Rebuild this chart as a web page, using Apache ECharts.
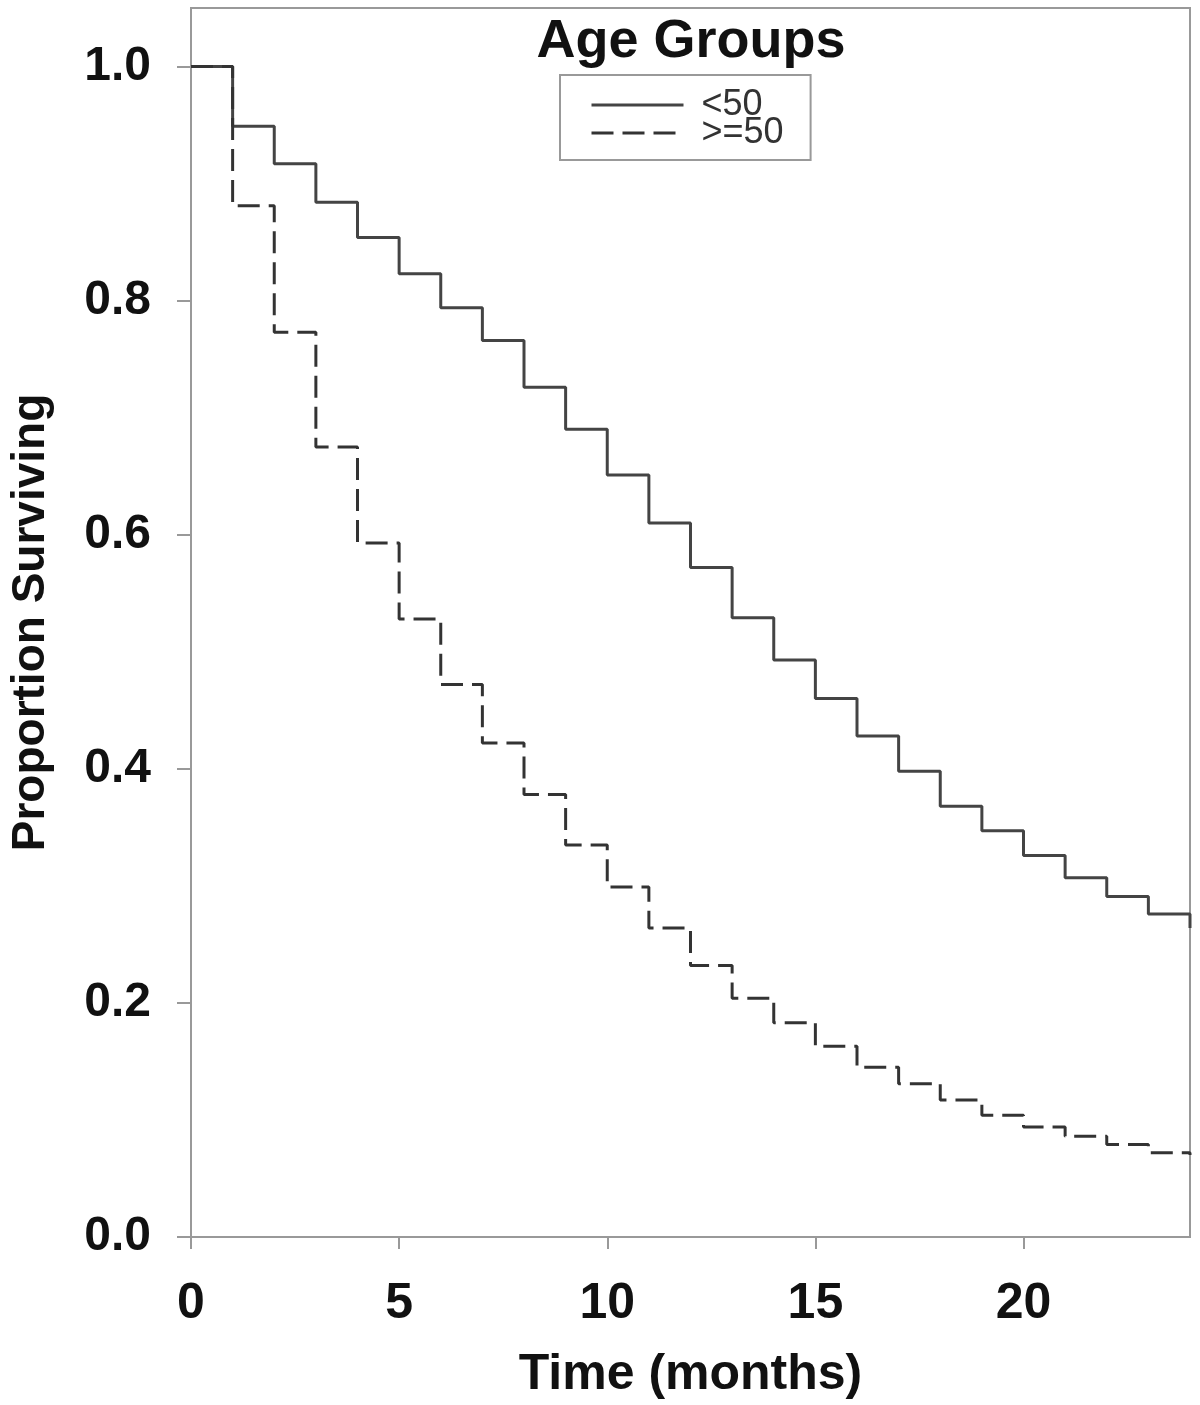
<!DOCTYPE html>
<html>
<head>
<meta charset="utf-8">
<script src="https://cdn.jsdelivr.net/npm/echarts@6/dist/echarts.min.js"></script>
<style>
html,body{margin:0;padding:0;background:#fff;}
#chart{width:1200px;height:1405px;}
</style>
</head>
<body>
<div id="chart"></div>
<script>
// Time points (months); value at index i is the survival level from t=i to t=i+1
const times = [0,1,2,3,4,5,6,7,8,9,10,11,12,13,14,15,16,17,18,19,20,21,22,23,24];
const under50 = [1.0,0.949,0.917,0.884,0.854,0.823,0.794,0.766,0.726,0.690,0.651,0.610,0.572,0.529,0.493,0.460,0.428,0.398,0.368,0.347,0.326,0.307,0.291,0.276,0.264];
const over50  = [1.0,0.881,0.773,0.675,0.593,0.528,0.472,0.422,0.378,0.335,0.299,0.264,0.232,0.204,0.183,0.163,0.145,0.131,0.117,0.104,0.094,0.086,0.079,0.072,0.070];
const seriesNames = ['<50', '>=50'];
const xTicks = [0,5,10,15,20];
const yTicks = [0,0.2,0.4,0.6,0.8,1.0];

const FONT = '"Liberation Sans", Arial, Helvetica, sans-serif';
const chart = echarts.init(document.getElementById('chart'), null, {renderer:'canvas'});
chart.setOption({
  animation:false,
  backgroundColor:'#fff',
  title:{
    text:'Age Groups',
    left:691, top:15, padding:0, textAlign:'center',
    textStyle:{fontFamily:FONT, fontWeight:'bold', fontSize:54, color:'#111'}
  },
  legend:{
    orient:'vertical',
    left:560, top:75,
    padding:[12,27,9,30],
    itemGap:-8,
    itemWidth:92, itemHeight:28,
    borderColor:'#999', borderWidth:2,
    data:seriesNames,
    itemStyle:{opacity:0},
    lineStyle:{width:3},
    textStyle:{fontFamily:FONT, fontSize:36, color:'#333', padding:[0,0,0,13]}
  },
  grid:{
    left:191, right:10, top:8, bottom:168,
    show:true, borderColor:'#999', borderWidth:2,
    outerBoundsMode:'none'
  },
  xAxis:{
    type:'value', min:0, max:24,
    name:'Time (months)', nameLocation:'middle', nameGap:113,
    nameTextStyle:{fontFamily:FONT, fontWeight:'bold', fontSize:50, color:'#111'},
    axisLine:{show:true, lineStyle:{color:'#999', width:2}},
    axisTick:{show:true, length:12, lineStyle:{color:'#999', width:2}, customValues:xTicks},
    axisLabel:{fontFamily:FONT, fontWeight:'bold', fontSize:50, color:'#111', margin:42, customValues:xTicks},
    splitLine:{show:false}
  },
  yAxis:{
    type:'value', min:0, max:1.05,
    name:'Proportion Surviving', nameLocation:'middle', nameRotate:90, nameGap:137,
    nameTextStyle:{fontFamily:FONT, fontWeight:'bold', fontSize:46, color:'#111'},
    axisLine:{show:true, lineStyle:{color:'#999', width:2}},
    axisTick:{show:true, length:14, lineStyle:{color:'#999', width:2}, customValues:yTicks},
    axisLabel:{fontFamily:FONT, fontWeight:'bold', fontSize:48, color:'#111', margin:40,
      customValues:yTicks, formatter:(v)=>v.toFixed(1)},
    splitLine:{show:false}
  },
  series:[
    {
      name:seriesNames[0], type:'line', step:'end', symbol:'none',
      data:times.map((t,i)=>[t, under50[i]]),
      lineStyle:{color:'#444', width:3, type:'solid'},
      itemStyle:{color:'#444'}
    },
    {
      name:seriesNames[1], type:'line', step:'end', symbol:'none',
      data:times.map((t,i)=>[t, over50[i]]),
      lineStyle:{color:'#333', width:3, type:[22,9]},
      itemStyle:{color:'#333'}
    }
  ]
});
</script>
</body>
</html>
